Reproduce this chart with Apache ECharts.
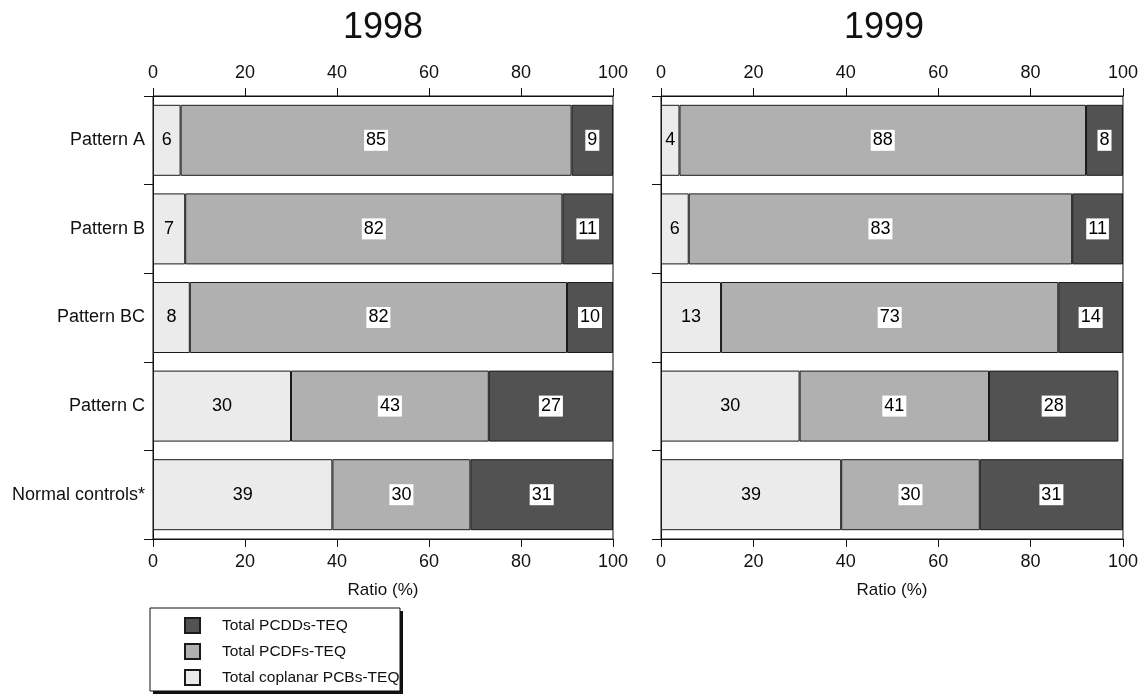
<!DOCTYPE html>
<html>
<head>
<meta charset="utf-8">
<script src="https://cdn.jsdelivr.net/npm/echarts@6/dist/echarts.min.js"></script>
<style>
  html, body { margin: 0; padding: 0; background: #fff; }
  #chart { width: 1141px; height: 694px; }
</style>
</head>
<body>
<div id="chart"></div>
<script>
// Groups shown on the vertical axis (top to bottom)
const categories = ['Pattern A', 'Pattern B', 'Pattern BC', 'Pattern C', 'Normal controls*'];

// Share of total TEQ (%) per group, 1998
const pcbs1998  = [6, 7, 8, 30, 39];
const pcdfs1998 = [85, 82, 82, 43, 30];
const pcdds1998 = [9, 11, 10, 27, 31];

// Share of total TEQ (%) per group, 1999
const pcbs1999  = [4, 6, 13, 30, 39];
const pcdfs1999 = [88, 83, 73, 41, 30];
const pcdds1999 = [8, 11, 14, 28, 31];

const yearTitles = ['1998', '1999'];
const axisName = 'Ratio (%)';
const seriesNames = ['Total coplanar PCBs-TEQ', 'Total PCDFs-TEQ', 'Total PCDDs-TEQ'];
const legendOrder = ['Total PCDDs-TEQ', 'Total PCDFs-TEQ', 'Total coplanar PCBs-TEQ'];

const FONT = '"Liberation Sans", Arial, Helvetica, sans-serif';
const fills = ['#ebebeb', '#b0b0b0', '#525252'];

const chart = echarts.init(document.getElementById('chart'), null, { renderer: 'canvas' });

const grids = [
  { left: 153, top: 96, width: 460, height: 443 },
  { left: 661, top: 96, width: 462, height: 443 }
];

function valueAxis(gridIndex, position, withName) {
  return {
    type: 'value', gridIndex, position, min: 0, max: 100, interval: 20,
    axisLine: { show: true, lineStyle: { color: '#111', width: 1 } },
    axisTick: { show: true, inside: false, length: 8, lineStyle: { color: '#111' } },
    axisLabel: { show: true, margin: 14, color: '#111', fontFamily: FONT, fontSize: 18 },
    splitLine: { show: false },
    name: withName ? axisName : '',
    nameLocation: 'middle', nameGap: 43,
    nameTextStyle: { color: '#111', fontFamily: FONT, fontSize: 17 }
  };
}

function catAxis(gridIndex, showLabels) {
  return {
    type: 'category', gridIndex, data: categories, inverse: true,
    boundaryGap: true,
    axisLine: { show: true, lineStyle: { color: '#111' } },
    axisTick: { show: true, inside: false, length: 9, alignWithLabel: false,
                lineStyle: { color: '#111' } },
    axisLabel: { show: showLabels, margin: 8, color: '#111', fontFamily: FONT, fontSize: 18 },
    splitLine: { show: false }
  };
}

function segment(name, data, idx, xAxisIndex, yAxisIndex, stack) {
  const boxed = idx > 0;
  return {
    name, type: 'bar', stack, data,
    xAxisIndex, yAxisIndex,
    barWidth: 71,
    itemStyle: { color: fills[idx], borderColor: '#1a1a1a', borderWidth: 1 },
    label: {
      show: true, position: 'inside', color: '#000',
      fontFamily: FONT, fontSize: 18,
      backgroundColor: boxed ? '#fff' : 'transparent',
      padding: boxed ? [2, 2, 1, 2] : 0
    },
    emphasis: { disabled: true }
  };
}

const yearData = [
  [pcbs1998, pcdfs1998, pcdds1998],
  [pcbs1999, pcdfs1999, pcdds1999]
];

const series = [];
yearData.forEach((sets, g) => {
  sets.forEach((vals, i) => {
    series.push(segment(seriesNames[i], vals, i, g * 2, g, 'y' + g));
  });
});

chart.setOption({
  animation: false,
  backgroundColor: '#fff',
  grid: grids.map(g => Object.assign({ show: true, borderColor: '#111', borderWidth: 1,
                                       backgroundColor: 'transparent' }, g)),
  xAxis: [
    valueAxis(0, 'bottom', true), valueAxis(0, 'top', false),
    valueAxis(1, 'bottom', true), valueAxis(1, 'top', false)
  ],
  yAxis: [catAxis(0, true), catAxis(1, false)],
  legend: {
    data: legendOrder,
    orient: 'vertical',
    left: 184, top: 617,
    padding: 0,
    height: 75,
    itemWidth: 15, itemHeight: 15, itemGap: 9,
    icon: 'rect',
    selectedMode: false,
    textStyle: { color: '#111', fontFamily: FONT, fontSize: 15.5, padding: [0, 0, 0, 17] },
    z: 10
  },
  graphic: [
    { type: 'rect', z: 1, shape: { x: 153, y: 611, width: 250, height: 83 },
      style: { fill: '#111' } },
    { type: 'rect', z: 2, shape: { x: 150, y: 608, width: 250, height: 83 },
      style: { fill: '#fff', stroke: '#111', lineWidth: 1 } },
    { type: 'text', z: 5, x: 383, y: 28,
      style: { text: yearTitles[0], font: '36px ' + FONT, fill: '#111',
               textAlign: 'center', textVerticalAlign: 'middle' } },
    { type: 'text', z: 5, x: 884, y: 28,
      style: { text: yearTitles[1], font: '36px ' + FONT, fill: '#111',
               textAlign: 'center', textVerticalAlign: 'middle' } }
  ],
  series
});
</script>
</body>
</html>
